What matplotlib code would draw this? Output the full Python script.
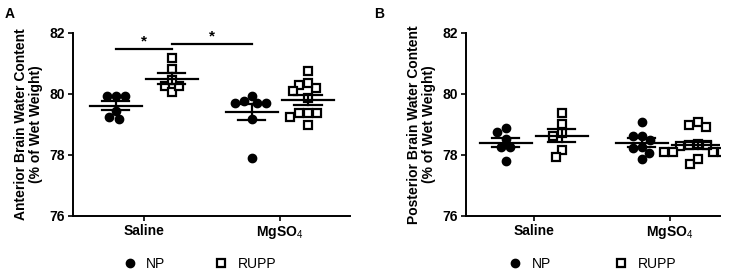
"""Brain water content, NP vs RUPP, saline vs MgSO4 (scatter with mean +/- SEM)."""

import matplotlib

matplotlib.use("Agg")
import matplotlib.pyplot as plt
import numpy as np
from matplotlib.lines import Line2D

plt.rcParams["font.family"] = ["Liberation Sans", "DejaVu Sans"]
plt.rcParams["mathtext.fontset"] = "custom"
plt.rcParams["mathtext.rm"] = "Liberation Sans"
plt.rcParams["mathtext.default"] = "rm"

TREATMENTS = ["Saline", "MgSO$_{4}$"]
SERIES = ["NP", "RUPP"]

# anterior brain water content (% of wet weight)
ANT_SALINE_NP = [79.93, 79.93, 79.93, 79.45, 79.17, 79.26]
ANT_SALINE_RUPP = [81.17, 80.81, 80.26, 80.07, 80.26, 80.46]
ANT_MG_NP = [79.93, 79.69, 79.69, 79.69, 79.78, 79.17, 77.91]
ANT_MG_RUPP = [80.75, 80.30, 80.19, 80.35, 80.08, 79.86, 79.37, 79.37,
               79.37, 79.26, 78.98]

# posterior brain water content (% of wet weight)
POST_SALINE_NP = [78.76, 78.87, 78.51, 78.25, 78.25, 77.80]
POST_SALINE_RUPP = [79.37, 79.02, 78.71, 78.62, 78.16, 77.92]
POST_MG_NP = [79.09, 78.62, 78.62, 78.49, 78.22, 78.27, 78.08, 77.86]
POST_MG_RUPP = [79.09, 78.93, 78.98, 78.36, 78.33, 78.33, 78.30, 78.10,
                78.10, 78.10, 78.10, 78.10, 77.70, 77.86]

# significance bars on panel A: (from group, to group, height)
ANT_SIG = [((0, 0), (0, 1), 81.48), ((0, 1), (1, 0), 81.64)]

Y_TICKS = [76, 78, 80, 82]
OFFSET = 0.206          # NP / RUPP shift from the treatment centre
PX_PER_Y = 30.5         # pixels per % on the y axis
PX_PER_X = 136.0        # pixels per treatment step


def swarm(values, diam=9.0):
    """Simple beeswarm: horizontal offsets (data units) avoiding overlap."""
    vals = np.asarray(values, dtype=float)
    offs = np.zeros(len(vals))
    placed = []
    steps = sorted(np.arange(-40, 40.5, 0.5), key=lambda s: (abs(s), s))
    for i in np.argsort(-vals):
        y = vals[i] * PX_PER_Y
        for c in steps:
            if all((c - px) ** 2 + (y - py) ** 2 >= diam ** 2 for px, py in placed):
                break
        placed.append((c, y))
        offs[i] = c / PX_PER_X
    return offs


def draw_group(ax, x, values, marker):
    vals = np.asarray(values, dtype=float)
    xs = x + swarm(vals)
    if marker == "o":
        ax.plot(xs, vals, "o", ms=6, color="black", zorder=2)
    else:
        ax.plot(xs, vals, "s", ms=5.6, mfc="white", mec="black", mew=1.6, zorder=2)
    mean = vals.mean()
    sem = vals.std(ddof=1) / np.sqrt(len(vals))
    ax.plot([x - 0.19, x + 0.19], [mean, mean], color="black", lw=1.6, zorder=3)
    ax.plot([x - 0.1, x + 0.1], [mean + sem] * 2, color="black", lw=1.6, zorder=3)
    ax.plot([x - 0.1, x + 0.1], [mean - sem] * 2, color="black", lw=1.6, zorder=3)
    ax.plot([x, x], [mean - sem, mean + sem], color="black", lw=1.6, zorder=3)


def style_axes(ax, ylabel, xlim, legend_x, colspace):
    ax.set_ylim(76, 82)
    ax.set_xlim(*xlim)
    ax.set_yticks(Y_TICKS)
    ax.set_xticks(range(len(TREATMENTS)))
    ax.set_xticklabels(TREATMENTS, fontweight="bold", fontsize=10)
    for lbl in ax.get_yticklabels():
        lbl.set_fontweight("bold")
        lbl.set_fontsize(10)
    for side in ("top", "right"):
        ax.spines[side].set_visible(False)
    for side in ("left", "bottom"):
        ax.spines[side].set_linewidth(1.4)
    ax.tick_params(direction="out", length=3.5, width=1.2, pad=2)
    ax.set_ylabel(ylabel, fontweight="bold", fontsize=10, labelpad=5,
                  linespacing=1.1)
    handles = [
        Line2D([], [], ls="none", marker="o", ms=6, color="black"),
        Line2D([], [], ls="none", marker="s", ms=5.6, mfc="white", mec="black", mew=1.6),
    ]
    ax.legend(handles, SERIES, loc="center", bbox_to_anchor=(legend_x, -0.262),
              ncol=2, frameon=False, fontsize=10, handletextpad=0.8,
              columnspacing=colspace, handlelength=0.8, borderpad=0.0,
              borderaxespad=0.0)


def plot_panel(ax, groups, ylabel, xlim, legend_x, colspace):
    for t, (np_vals, rupp_vals) in enumerate(groups):
        draw_group(ax, t - OFFSET, np_vals, "o")
        draw_group(ax, t + OFFSET, rupp_vals, "s")
    style_axes(ax, ylabel, xlim, legend_x, colspace)


def main() -> None:
    fig = plt.figure(figsize=(7.43, 2.72), dpi=100)
    ax_a = fig.add_axes([0.098, 0.206, 0.373, 0.673])
    ax_b = fig.add_axes([0.627, 0.206, 0.342, 0.673])

    plot_panel(ax_a, [(ANT_SALINE_NP, ANT_SALINE_RUPP), (ANT_MG_NP, ANT_MG_RUPP)],
               "Anterior Brain Water Content\n(% of Wet Weight)", (-0.522, 1.515),
               0.46, 3.6)
    plot_panel(ax_b, [(POST_SALINE_NP, POST_SALINE_RUPP), (POST_MG_NP, POST_MG_RUPP)],
               "Posterior Brain Water Content\n(% of Wet Weight)", (-0.5, 1.37),
               0.5, 4.6)

    for (g0, s0), (g1, s1), h in ANT_SIG:
        x0 = g0 + (OFFSET if s0 else -OFFSET)
        x1 = g1 + (OFFSET if s1 else -OFFSET)
        ax_a.plot([x0, x1], [h, h], color="black", lw=1.6, clip_on=False)
        ax_a.text((x0 + x1) / 2, h + 0.02, "*", ha="center", va="bottom",
                  fontsize=11, fontweight="bold")

    fig.text(0.006, 0.975, "A", fontsize=10, fontweight="bold", va="top")
    fig.text(0.503, 0.975, "B", fontsize=10, fontweight="bold", va="top")

    fig.savefig("out.png", dpi=100)
    plt.close(fig)


if __name__ == "__main__":
    main()
